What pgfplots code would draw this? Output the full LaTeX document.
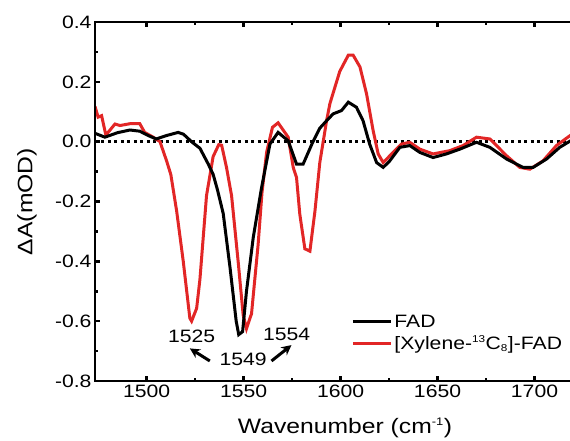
\documentclass[border=0pt]{standalone}
\usepackage{fontspec}
\setmainfont{Liberation Sans}[FakeStretch=1.18]
\usepackage{pgfplots}
\pgfplotsset{compat=1.18}
\usetikzlibrary{arrows.meta}
\definecolor{myred}{RGB}{226,38,38}
\newcommand\fonttk{\fontsize{18}{20}\selectfont}
\newcommand\fontlb{\fontsize{21}{24}\selectfont}
\newcommand\fontlg{\fontsize{18}{21}\selectfont}
\begin{document}
\begin{tikzpicture}
\begin{axis}[name=ax,
  scale only axis, width=479bp, height=359bp,
  xmin=1473.4, xmax=1720.36, ymin=-0.8, ymax=0.4,
  clip mode=individual,
  axis line style={line width=2.5bp, black},
  xtick={1500,1550,1600,1650,1700},
  xticklabels={1500,1550,1600,1650,1700},
  ytick={-0.8,-0.6,-0.4,-0.2,0,0.2,0.4},
  yticklabels={-0.8,-0.6,-0.4,-0.2,0.0,0.2,0.4},
  minor x tick num=1, minor y tick num=1,
  tick align=inside, xticklabel pos=lower, ytick pos=left,
  major tick length=5bp, minor tick length=3bp,
  tick style={black, line width=2.5bp},
  tick label style={font=\fonttk},
  xlabel={Wavenumber (cm\textsuperscript{\fontsize{11}{11}\selectfont -1})},
  ylabel={ΔA(mOD)},
  label style={font=\fontlb},
  xlabel style={at={(axis description cs:0.522,-0.131)}, anchor=center},
  ylabel style={at={(axis description cs:-0.142,0.5)}, anchor=center},
  legend style={draw=none, fill=none, at={(0.535,0.19)}, anchor=north west, inner sep=0pt, font=\fontlg, row sep=3bp, cells={anchor=west}},
  legend image code/.code={\draw[#1] (0bp,0bp) -- (38bp,0bp);},
  reverse legend,
]
\addplot[black, line width=2.5bp, dash pattern=on 3bp off 3.5bp, forget plot] coordinates {(1473.4,0) (1720.36,0)};
\addplot[myred, line width=3bp] table {
1473.4 0.118
1475 0.082
1476.8 0.087
1479 0.022
1483.7 0.059
1486.3 0.054
1491.4 0.06
1496.5 0.06
1499 0.031
1503.4 0.015
1506.9 0.0
1510.3 -0.064
1512.5 -0.11
1515.5 -0.232
1518.9 -0.4
1522.3 -0.59
1523.2 -0.6
1525.8 -0.557
1527.5 -0.46
1529.2 -0.32
1530.9 -0.18
1534.3 -0.05
1537.2 -0.01
1538.7 -0.012
1541.2 -0.086
1543.8 -0.18
1547.2 -0.4
1549.8 -0.58
1551.5 -0.625
1554.1 -0.575
1557.5 -0.344
1559.5 -0.17
1561.9 -0.035
1564.9 0.048
1567.8 0.063
1573 0.015
1575.6 -0.086
1577.3 -0.12
1579 -0.243
1581.6 -0.358
1584.2 -0.366
1586.8 -0.232
1589.3 -0.07
1592.8 0.07
1594.5 0.127
1599.6 0.235
1604 0.289
1606.5 0.289
1610 0.25
1613.4 0.16
1616.8 0.037
1619.4 -0.041
1622 -0.07
1626.3 -0.041
1631.4 -0.008
1635.7 -0.002
1640.9 -0.025
1647.7 -0.041
1656.3 -0.03
1663.2 -0.013
1670.1 0.015
1677 0.009
1685.6 -0.047
1692.4 -0.086
1697.6 -0.092
1704.4 -0.064
1711.3 -0.013
1720.36 0.03
};
\addlegendentry{[Xylene-\textsuperscript{\fontsize{10}{10}\selectfont 13}C\textsubscript{\fontsize{10}{10}\selectfont 8}]-FAD}
\addplot[black, line width=3bp] table {
1473.4 0.028
1478.5 0.015
1485 0.03
1491.4 0.039
1496.5 0.035
1501 0.02
1505 0.009
1510 0.02
1516.3 0.031
1519 0.025
1523.5 -0.002
1527.5 -0.022
1531.8 -0.075
1534.3 -0.109
1536.5 -0.16
1539.5 -0.24
1543 -0.42
1546.2 -0.6
1547.5 -0.645
1549.5 -0.635
1551.5 -0.5
1555 -0.32
1559.3 -0.153
1563.6 -0.008
1567.8 0.031
1573 0.003
1577.3 -0.075
1580.7 -0.075
1585.5 -0.004
1589.3 0.045
1592.8 0.07
1596.2 0.093
1600.5 0.104
1604 0.132
1608.2 0.115
1611.6 0.07
1615 -0.008
1618.6 -0.07
1622 -0.086
1625.4 -0.064
1630.6 -0.019
1635.7 -0.013
1640.9 -0.036
1647.7 -0.053
1654.6 -0.041
1661.5 -0.025
1670.1 -0.002
1677 -0.019
1685.6 -0.058
1694.1 -0.086
1699.3 -0.086
1706.2 -0.058
1713 -0.019
1720.36 0.01
};
\addlegendentry{FAD}
\draw[black, line width=2.5bp, line join=miter] (axis cs:1720.36,0.4) -- (axis cs:1473.4,0.4) -- (axis cs:1473.4,-0.8) -- (axis cs:1720.36,-0.8);
\node[font=\fontlg] at (axis cs:1523.2,-0.652) {1525};
\node[font=\fontlg] at (axis cs:1549.8,-0.729) {1549};
\node[font=\fontlg] at (axis cs:1572.2,-0.645) {1554};
\draw[-{Stealth[length=10bp,width=10bp]}, line width=3bp] (axis cs:1532.6,-0.733) -- (axis cs:1522.3,-0.691);
\draw[-{Stealth[length=10bp,width=10bp]}, line width=3bp] (axis cs:1564.4,-0.733) -- (axis cs:1574.7,-0.68);
\end{axis}
\pgfresetboundingbox
\path[use as bounding box] ([shift={(-95bp,-59bp)}]ax.south west) rectangle ([shift={(-4bp,22bp)}]ax.north east);
\end{tikzpicture}
\end{document}
